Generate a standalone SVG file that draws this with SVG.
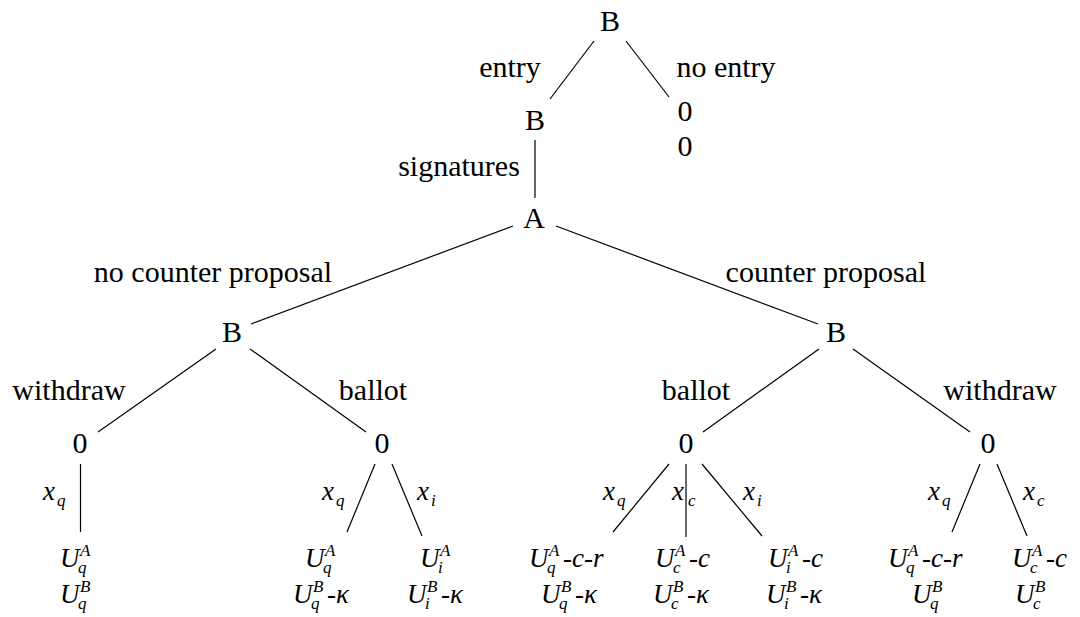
<svg xmlns="http://www.w3.org/2000/svg" width="1080" height="617" viewBox="0 0 1080 617">
<style>
.t{font-family:'Liberation Serif','DejaVu Serif',serif;font-size:30px;fill:#000}
.c{text-anchor:middle}
.m{font-family:'Liberation Serif','DejaVu Serif',serif;font-style:italic;font-size:27px;fill:#000}
.s{font-size:17px}
.e line{stroke:#000;stroke-width:1.2}
</style>
<rect width="1080" height="617" fill="#fff"/>
<g id="connectors" class="e">
<line x1="594" y1="41" x2="550" y2="99"/>
<line x1="626" y1="41" x2="669" y2="97"/>
<line x1="535" y1="140" x2="535" y2="198"/>
<line x1="513" y1="226" x2="251" y2="324"/>
<line x1="556" y1="226" x2="818" y2="324"/>
<line x1="216" y1="349" x2="98" y2="432"/>
<line x1="250" y1="349" x2="366" y2="432"/>
<line x1="819" y1="349" x2="703" y2="432"/>
<line x1="853" y1="349" x2="970" y2="432"/>
<line x1="80.5" y1="464" x2="80.5" y2="532"/>
<line x1="375" y1="464" x2="347" y2="532"/>
<line x1="392" y1="464" x2="422" y2="536"/>
<line x1="669" y1="464" x2="613" y2="532"/>
<line x1="686" y1="464" x2="686" y2="537"/>
<line x1="702" y1="464" x2="762" y2="536"/>
<line x1="980" y1="464" x2="952" y2="532"/>
<line x1="997" y1="464" x2="1027" y2="536"/>
</g>
<g id="edge-labels">
<text class="t c" x="510" y="77">entry</text>
<text class="t c" x="726" y="77">no entry</text>
<text class="t c" x="459" y="176">signatures</text>
<text class="t c" x="213" y="282">no counter proposal</text>
<text class="t c" x="826" y="282">counter proposal</text>
<text class="t c" x="69" y="400">withdraw</text>
<text class="t c" x="373" y="400">ballot</text>
<text class="t c" x="696" y="400">ballot</text>
<text class="t c" x="1000" y="400">withdraw</text>
<text class="m"><tspan x="43" y="500">x</tspan><tspan class="s" x="57" y="506">q</tspan></text>
<text class="m"><tspan x="322" y="500">x</tspan><tspan class="s" x="336" y="506">q</tspan></text>
<text class="m"><tspan x="417" y="500">x</tspan><tspan class="s" x="431" y="506">i</tspan></text>
<text class="m"><tspan x="603" y="500">x</tspan><tspan class="s" x="617" y="506">q</tspan></text>
<text class="m"><tspan x="672" y="500">x</tspan><tspan class="s" x="688" y="506">c</tspan></text>
<text class="m"><tspan x="743" y="500">x</tspan><tspan class="s" x="757" y="506">i</tspan></text>
<text class="m"><tspan x="928" y="500">x</tspan><tspan class="s" x="942" y="506">q</tspan></text>
<text class="m"><tspan x="1023" y="500">x</tspan><tspan class="s" x="1037" y="506">c</tspan></text>
</g>
<g id="n-root"><text class="t c" x="610" y="31">B</text></g>
<g id="n-b2"><text class="t c" x="535" y="130">B</text></g>
<g id="n-noentry"><text class="t c" x="685" y="121">0</text><text class="t c" x="685" y="156">0</text></g>
<g id="n-a"><text class="t c" x="534" y="228">A</text></g>
<g id="n-bl"><text class="t c" x="232" y="342">B</text></g>
<g id="n-br"><text class="t c" x="836" y="342">B</text></g>
<g id="n-0a"><text class="t c" x="80" y="453">0</text></g>
<g id="n-0b"><text class="t c" x="382" y="453">0</text></g>
<g id="n-0c"><text class="t c" x="686" y="453">0</text></g>
<g id="n-0d"><text class="t c" x="988" y="453">0</text></g>
<g id="leaf1">
<text class="m"><tspan x="60" y="567">U</tspan><tspan class="s" x="80" y="556">A</tspan><tspan class="s" x="78" y="573">q</tspan></text>
<text class="m"><tspan x="60" y="603">U</tspan><tspan class="s" x="80" y="592">B</tspan><tspan class="s" x="78" y="609">q</tspan></text>
</g>
<g id="leaf2">
<text class="m"><tspan x="305" y="567">U</tspan><tspan class="s" x="325" y="556">A</tspan><tspan class="s" x="323" y="573">q</tspan></text>
<text class="m"><tspan x="293" y="603">U</tspan><tspan class="s" x="313" y="592">B</tspan><tspan class="s" x="311" y="609">q</tspan><tspan x="327" y="603">-κ</tspan></text>
</g>
<g id="leaf3">
<text class="m"><tspan x="420" y="567">U</tspan><tspan class="s" x="440" y="556">A</tspan><tspan class="s" x="438" y="573">i</tspan></text>
<text class="m"><tspan x="407" y="603">U</tspan><tspan class="s" x="427" y="592">B</tspan><tspan class="s" x="425" y="609">i</tspan><tspan x="441" y="603">-κ</tspan></text>
</g>
<g id="leaf4">
<text class="m"><tspan x="529" y="567">U</tspan><tspan class="s" x="549" y="556">A</tspan><tspan class="s" x="547" y="573">q</tspan><tspan x="563" y="567">-c-r</tspan></text>
<text class="m"><tspan x="541" y="603">U</tspan><tspan class="s" x="561" y="592">B</tspan><tspan class="s" x="559" y="609">q</tspan><tspan x="575" y="603">-κ</tspan></text>
</g>
<g id="leaf5">
<text class="m"><tspan x="655" y="567">U</tspan><tspan class="s" x="675" y="556">A</tspan><tspan class="s" x="673" y="573">c</tspan><tspan x="689" y="567">-c</tspan></text>
<text class="m"><tspan x="653" y="603">U</tspan><tspan class="s" x="673" y="592">B</tspan><tspan class="s" x="671" y="609">c</tspan><tspan x="687" y="603">-κ</tspan></text>
</g>
<g id="leaf6">
<text class="m"><tspan x="768" y="567">U</tspan><tspan class="s" x="788" y="556">A</tspan><tspan class="s" x="786" y="573">i</tspan><tspan x="802" y="567">-c</tspan></text>
<text class="m"><tspan x="766" y="603">U</tspan><tspan class="s" x="786" y="592">B</tspan><tspan class="s" x="784" y="609">i</tspan><tspan x="800" y="603">-κ</tspan></text>
</g>
<g id="leaf7">
<text class="m"><tspan x="888" y="567">U</tspan><tspan class="s" x="908" y="556">A</tspan><tspan class="s" x="906" y="573">q</tspan><tspan x="922" y="567">-c-r</tspan></text>
<text class="m"><tspan x="912" y="603">U</tspan><tspan class="s" x="932" y="592">B</tspan><tspan class="s" x="930" y="609">q</tspan></text>
</g>
<g id="leaf8">
<text class="m"><tspan x="1012" y="567">U</tspan><tspan class="s" x="1032" y="556">A</tspan><tspan class="s" x="1030" y="573">c</tspan><tspan x="1046" y="567">-c</tspan></text>
<text class="m"><tspan x="1015" y="603">U</tspan><tspan class="s" x="1035" y="592">B</tspan><tspan class="s" x="1033" y="609">c</tspan></text>
</g>
</svg>
